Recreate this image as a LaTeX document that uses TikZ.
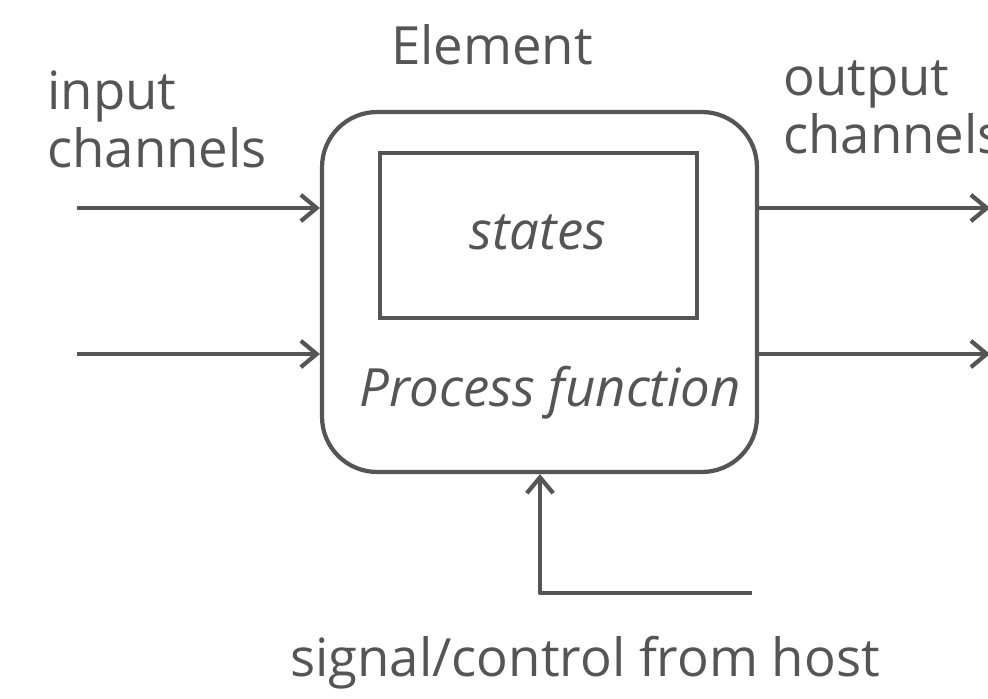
\documentclass[tikz,border=0pt]{standalone}
\usepackage{fontspec}
\setmainfont{Open Sans}
\usetikzlibrary{arrows.meta}

\definecolor{linegray}{HTML}{555555}
\tikzset{
	flow/.style={draw=linegray, line width=2.4pt, -{Straight Barb[length=9pt, width=15pt, line width=2.4pt]}},
	wire/.style={draw=linegray, line width=2.4pt},
	lbl/.style={text=linegray, inner sep=0pt, font=\fontsize{30}{33}\selectfont}
}

\begin{document}
\begin{tikzpicture}[x=0.02cm, y=-0.02cm]

		\useasboundingbox (0, 0) rectangle (988, 699);

		% element box and its state
		\node[wire, rectangle, rounded corners=1.1cm, minimum width=8.7cm, minimum height=7.2cm] (elem) at (539.5, 292) {};
		\node[wire, rectangle, minimum width=6.34cm, minimum height=3.3cm] (states) at (538.5, 235.5) {};
		\node[lbl, font=\fontsize{30}{33}\selectfont\itshape] (statestxt) at (538, 232) {states};
		\node[lbl, font=\fontsize{30}{33}\selectfont\itshape] (proc) at (550, 393) {Process function};

		% labels
		\node[lbl] (elemtxt) at (492, 45) {Element};
		\node[lbl, align=left, anchor=west] (intxt) at (47, 119) {input\\channels};
		\node[lbl, align=left, anchor=west] (outtxt) at (783, 107) {output\\channels};
		\node[lbl] (hosttxt) at (585, 663) {signal/control from host};

		% channels
		\coordinate (in1) at (77, 208);
		\coordinate (in2) at (77, 354);
		\coordinate (out1) at (990, 208);
		\coordinate (out2) at (990, 354);
		\coordinate (host) at (752, 593);
		\coordinate (bend) at (540, 593);

		\draw[flow] (in1) -- (elem.west |- in1);
		\draw[flow] (in2) -- (elem.west |- in2);
		\draw[flow] (elem.east |- out1) -- (out1);
		\draw[flow] (elem.east |- out2) -- (out2);
		\draw[flow, line join=round] (host) -- (bend) -- (bend |- elem.south);

	\end{tikzpicture}
\end{document}
